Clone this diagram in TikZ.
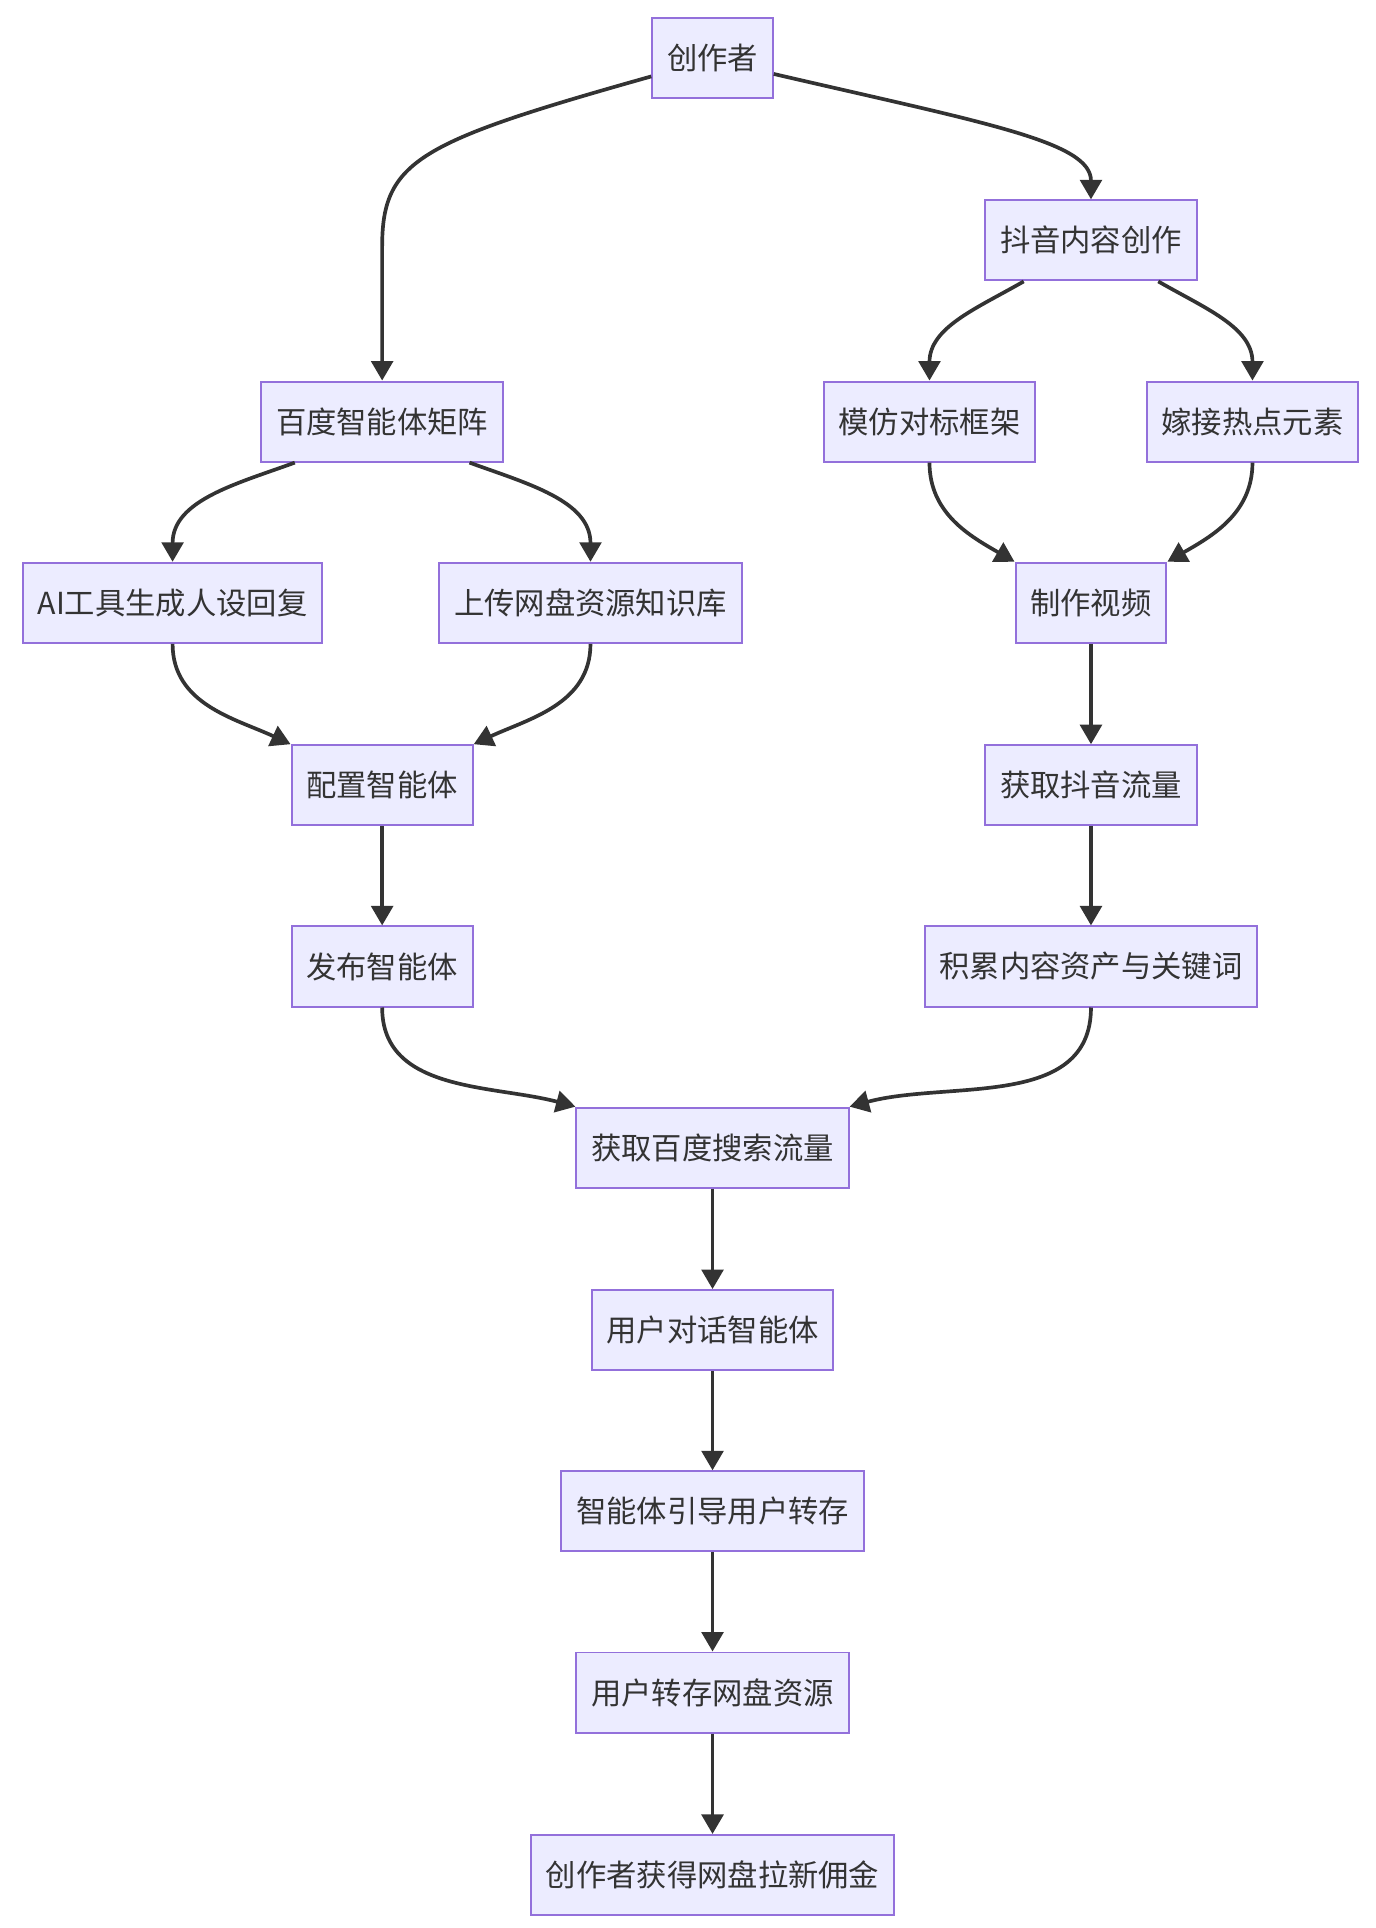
\documentclass[tikz,border=0pt]{standalone}
\usepackage{fontspec}
\setmainfont{Noto Sans CJK SC}
\usetikzlibrary{arrows.meta,calc}
\definecolor{boxfill}{HTML}{ECECFF}
\definecolor{boxline}{HTML}{9370DB}
\definecolor{arrline}{HTML}{333333}
\tikzset{
  box/.style={draw=boxline, fill=boxfill, line width=0.9pt, minimum height=1.3cm,
    inner xsep=0.24cm, font=\fontsize{14}{16}\selectfont, text=arrline},
  arr/.style={draw=arrline, line width=1.7pt, -{Triangle[length=9pt,width=10pt]}}
}
\begin{document}
\begin{tikzpicture}[x=0.02cm, y=-0.02cm]
        \useasboundingbox (0,0) rectangle (1116,1564);
        %Nút
        \node[box] (czz) at (578,47) {创作者};
        \node[box] (dy) at (885,195) {抖音内容创作};
        \node[box] (bd) at (310,342) {百度智能体矩阵};
        \node[box] (mf) at (754,342) {模仿对标框架};
        \node[box] (jj) at (1016,342) {嫁接热点元素};
        \node[box] (ai) at (140,489) {AI工具生成人设回复};
        \node[box] (sc) at (479,489) {上传网盘资源知识库};
        \node[box] (zz) at (885,489) {制作视频};
        \node[box] (pz) at (310,637) {配置智能体};
        \node[box] (hq) at (885,637) {获取抖音流量};
        \node[box] (fb) at (310,784) {发布智能体};
        \node[box] (jl) at (885,784) {积累内容资产与关键词};
        \node[box] (ss) at (578,931) {获取百度搜索流量};
        \node[box] (dh) at (578,1079) {用户对话智能体};
        \node[box] (yd) at (578,1226) {智能体引导用户转存};
        \node[box] (zc) at (578,1373) {用户转存网盘资源};
        \node[box] (yj) at (578,1521) {创作者获得网盘拉新佣金};
        %Cạnh
        \draw[arr] ($(czz.west)+(0,15)$) .. controls (340,115) and (310,130) .. (310,200) -- (bd.north);
        \draw[arr] ($(czz.east)+(0,13)$) .. controls (800,100) and (885,115) .. (dy.north);
        \draw[arr] ($(bd.south west)+(28,0)$) to[out=200,in=90] (ai.north);
        \draw[arr] ($(bd.south east)+(-28,0)$) to[out=-20,in=90] (sc.north);
        \draw[arr] ($(dy.south west)+(32,0)$) to[out=210,in=90] (mf.north);
        \draw[arr] ($(dy.south east)+(-32,0)$) to[out=-30,in=90] (jj.north);
        \draw[arr] (ai.south) to[out=-90,in=155] (pz.north west);
        \draw[arr] (sc.south) to[out=-90,in=25] (pz.north east);
        \draw[arr] (mf.south) to[out=-90,in=150] (zz.north west);
        \draw[arr] (jj.south) to[out=-90,in=30] (zz.north east);
        \draw[arr] (zz) -- (hq);
        \draw[arr] (hq) -- (jl);
        \draw[arr] (pz) -- (fb);
        \draw[arr] (fb.south) to[out=-90,in=165] (ss.north west);
        \draw[arr] (jl.south) to[out=-90,in=15] (ss.north east);
        \draw[arr] (ss) -- (dh);
        \draw[arr] (dh) -- (yd);
        \draw[arr] (yd) -- (zc);
        \draw[arr] (zc) -- (yj);
\end{tikzpicture}
\end{document}
